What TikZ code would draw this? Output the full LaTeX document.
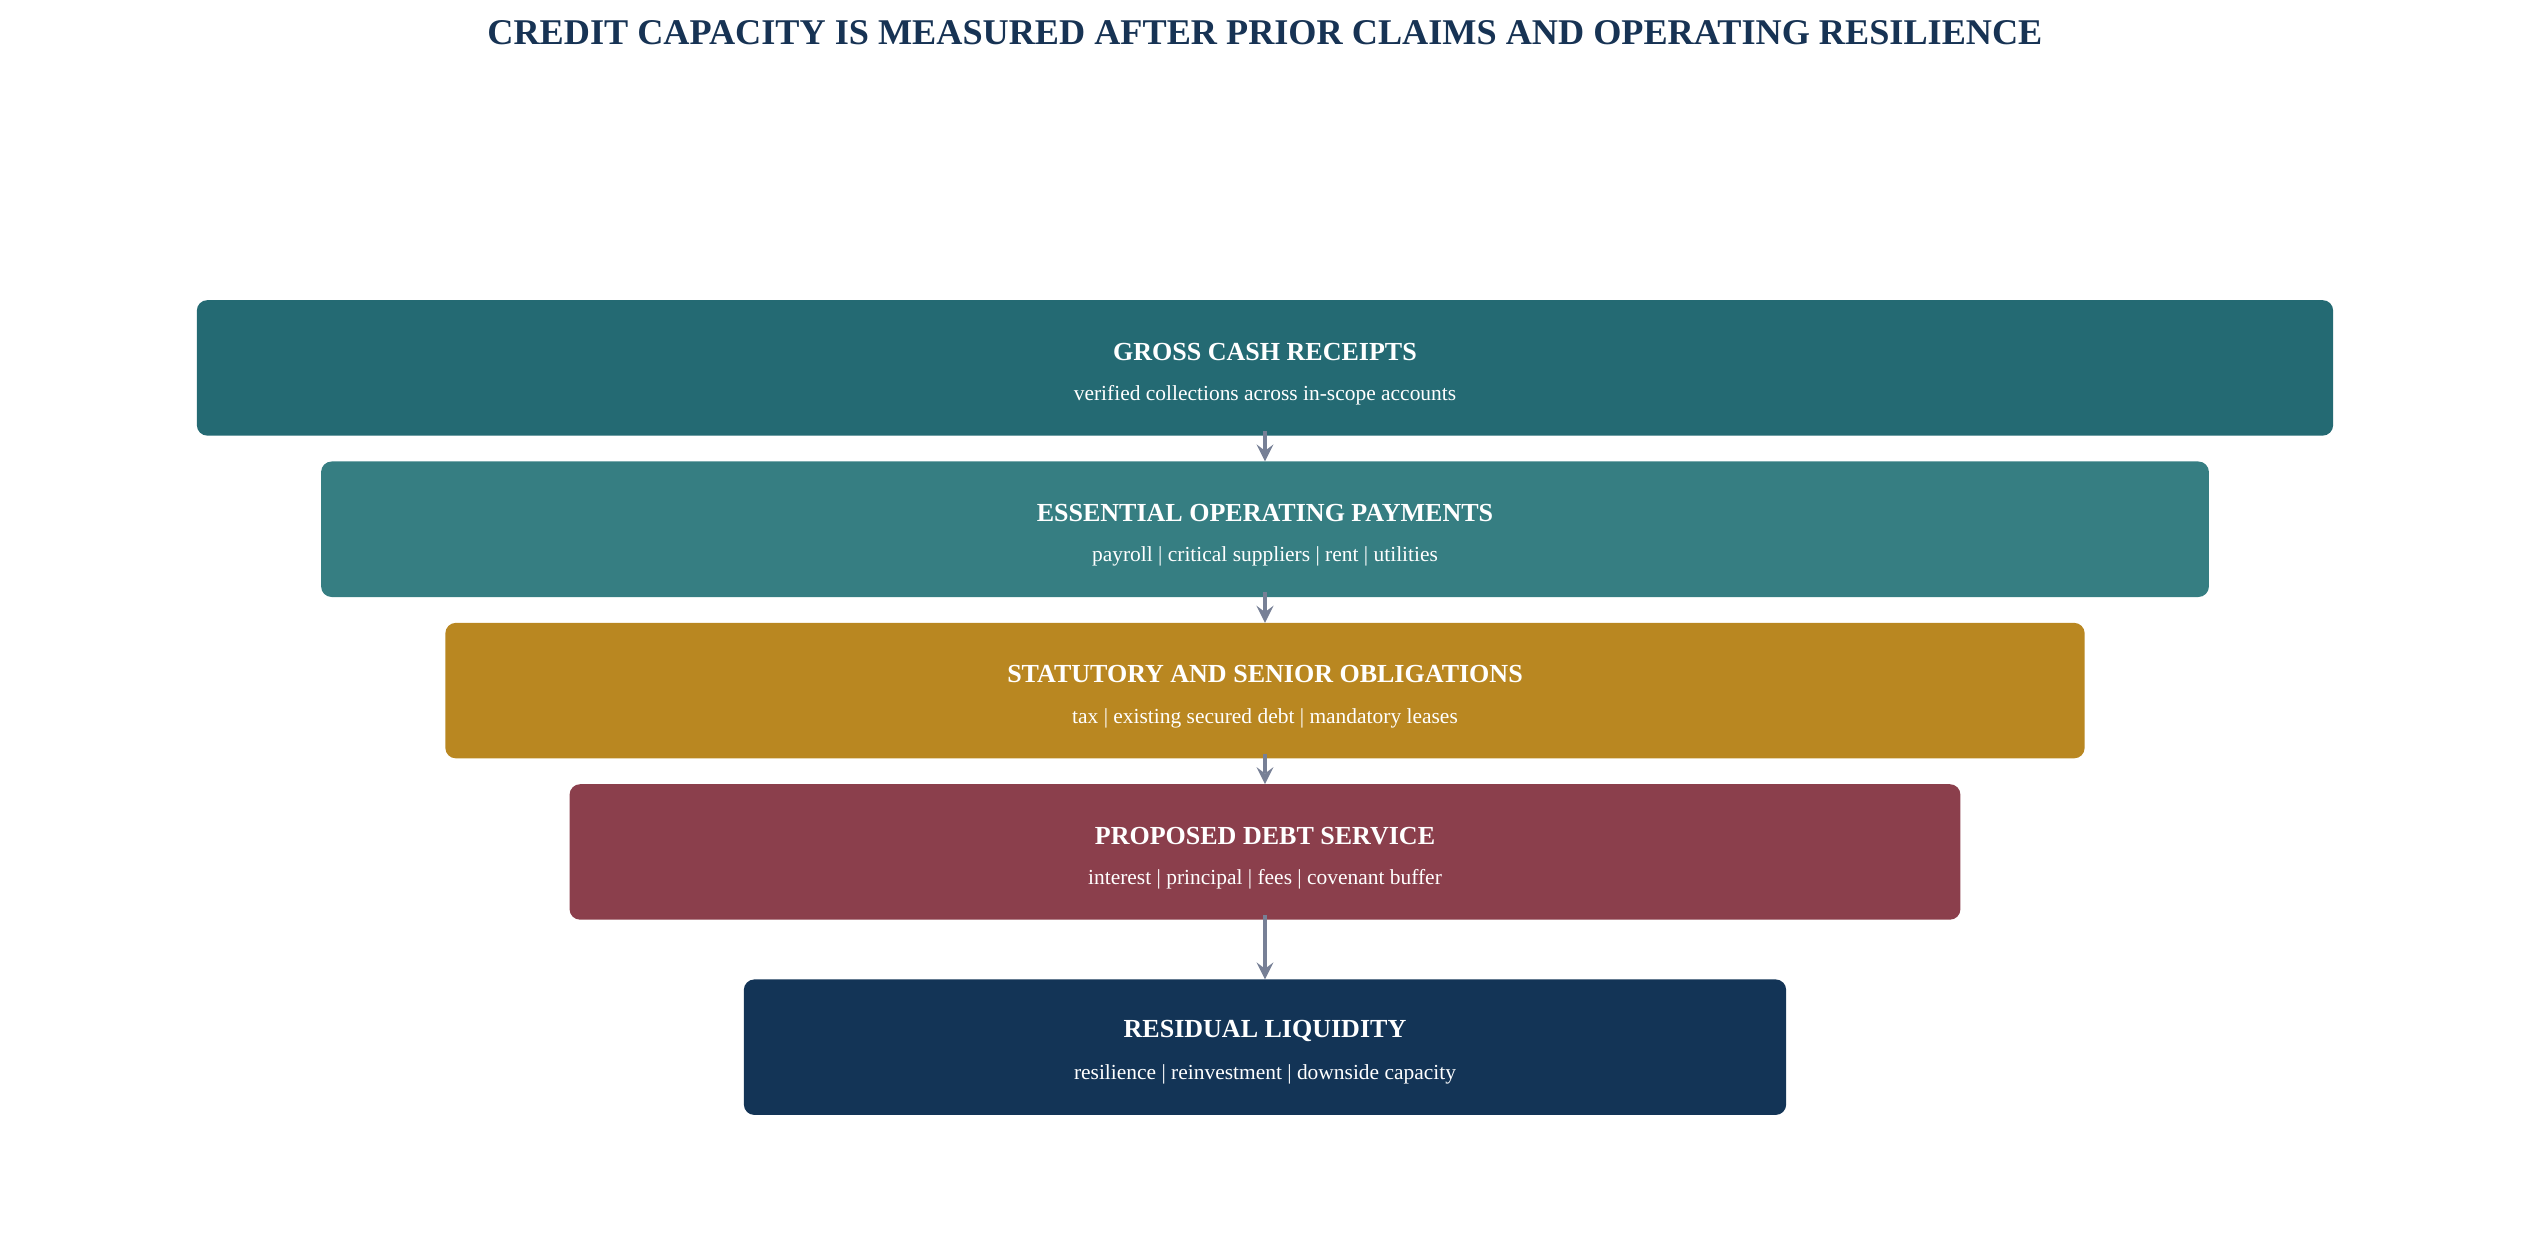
\documentclass[tikz,border=0pt]{standalone}
\usepackage{fontspec}
\setmainfont{Liberation Serif}
\usetikzlibrary{positioning}
\definecolor{titleblue}{HTML}{173354}
\definecolor{tealdark}{HTML}{246A73}
\definecolor{teallight}{HTML}{367E82}
\definecolor{ochre}{HTML}{B98721}
\definecolor{wine}{HTML}{8B3F4C}
\definecolor{navy}{HTML}{133456}
\definecolor{arrowgray}{HTML}{778096}
\tikzset{
  tier/.style={rounded corners=3pt, inner sep=0pt},
  head/.style={text=white, font=\bfseries\fontsize{7.4}{9}\selectfont},
  sub/.style={text=white, font=\fontsize{6.1}{7}\selectfont},
  flow/.style={->, >=stealth, draw=arrowgray, line width=1.1pt}
}
\begin{document}
\begin{tikzpicture}[x=0.016135cm, y=-0.016135cm]
    \useasboundingbox (0,0) rectangle (1568,777);
    \node[text=titleblue, font=\bfseries\fontsize{10.3}{12}\selectfont] (title) at (784,20) {CREDIT CAPACITY IS MEASURED AFTER PRIOR CLAIMS AND OPERATING RESILIENCE};

    % tiers
    \fill[tier, tealdark] (122,186) rectangle (1446,270);
    \fill[tier, teallight] (199,286) rectangle (1369,370);
    \fill[tier, ochre] (276,386) rectangle (1292,470);
    \fill[tier, wine] (353,486) rectangle (1215,570);
    \fill[tier, navy] (461,607) rectangle (1107,691);

    \node[head] (receipts) at (784,218) {GROSS CASH RECEIPTS};
    \node[sub] (receiptsSub) at (784,245) {verified collections across in-scope accounts};
    \node[head] (operating) at (784,318) {ESSENTIAL OPERATING PAYMENTS};
    \node[sub] (operatingSub) at (784,345) {payroll | critical suppliers | rent | utilities};
    \node[head] (senior) at (784,418) {STATUTORY AND SENIOR OBLIGATIONS};
    \node[sub] (seniorSub) at (784,445) {tax | existing secured debt | mandatory leases};
    \node[head] (proposed) at (784,518) {PROPOSED DEBT SERVICE};
    \node[sub] (proposedSub) at (784,545) {interest | principal | fees | covenant buffer};
    \node[head] (residual) at (784,639) {RESIDUAL LIQUIDITY};
    \node[sub] (residualSub) at (784,666) {resilience | reinvestment | downside capacity};

    % connectors
    \coordinate (b1) at (784,267); \coordinate (t2) at (784,286);
    \coordinate (b2) at (784,367); \coordinate (t3) at (784,386);
    \coordinate (b3) at (784,467); \coordinate (t4) at (784,486);
    \coordinate (b4) at (784,567); \coordinate (t5) at (784,607);
    \draw[flow] (b1) -- (t2);
    \draw[flow] (b2) -- (t3);
    \draw[flow] (b3) -- (t4);
    \draw[flow] (b4) -- (t5);
\end{tikzpicture}
\end{document}
